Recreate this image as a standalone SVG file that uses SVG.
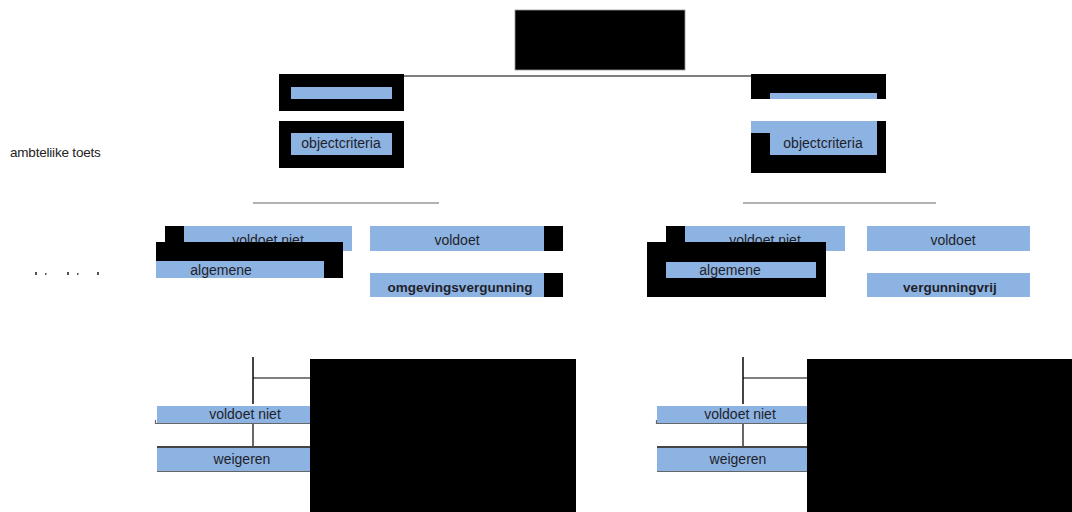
<svg xmlns="http://www.w3.org/2000/svg" width="1072" height="512" viewBox="0 0 1072 512">
<style>
.bk{fill:#000}
.bl{fill:#8db3e2}
.t{font-family:"Liberation Sans",Arial,sans-serif;font-size:14px;fill:#1f1f2a;text-anchor:middle}
.b{font-weight:bold;font-size:13.5px}
.ln{stroke:#000;stroke-width:1.2;fill:none}
.gl{stroke:#666;stroke-width:1.2;fill:none}
.dl{stroke:#444;stroke-width:2;fill:none}
.tk{fill:#555}
</style>
<defs>
<clipPath id="cL"><rect x="291" y="133" width="101" height="22"/></clipPath>
<clipPath id="cR"><rect x="770" y="133" width="107" height="22"/></clipPath>
<clipPath id="cVL"><rect x="184" y="226" width="168" height="16"/></clipPath>
<clipPath id="cVR"><rect x="685" y="226" width="160" height="16"/></clipPath>
<clipPath id="cA"><rect x="0" y="130" width="140" height="27"/></clipPath>
</defs>
<g id="connectors">
<line class="ln" x1="404" y1="76" x2="751" y2="76"/>
<line class="gl" x1="253" y1="203" x2="439" y2="203"/>
<line class="gl" x1="743" y1="203" x2="936" y2="203"/>
<line class="dl" x1="253" y1="357" x2="253" y2="404"/>
<line class="ln" x1="253" y1="378" x2="310" y2="378"/>
<line class="ln" x1="253" y1="423" x2="253" y2="447"/>
<line class="dl" x1="743" y1="357" x2="743" y2="404"/>
<line class="ln" x1="743" y1="378" x2="807" y2="378"/>
<line class="ln" x1="743" y1="423" x2="743" y2="447"/>
</g>
<g id="labels">
<text x="10" y="157" font-family="Liberation Sans,Arial,sans-serif" font-size="13.5" fill="#222" clip-path="url(#cA)" letter-spacing="-0.2">ambteliike toets</text>
<rect class="tk" x="35" y="272" width="2" height="3"/>
<rect class="tk" x="45" y="273" width="1.5" height="2"/>
<rect class="tk" x="67" y="272" width="2" height="3"/>
<rect class="tk" x="77" y="273" width="1.5" height="2"/>
<rect class="tk" x="97" y="272" width="2" height="3"/>
</g>
<g id="top">
<rect class="bk" x="515" y="10" width="170" height="60" stroke="#999" stroke-width="0.8"/>
</g>
<g id="left-1">
<rect class="bk" x="279" y="74" width="125" height="37"/>
<rect class="bl" x="291" y="87" width="101" height="12"/>
</g>
<g id="left-2">
<rect class="bk" x="279" y="121" width="125" height="47"/>
<rect class="bl" x="291" y="133" width="101" height="22"/>
<text class="t" x="341" y="148" clip-path="url(#cL)">objectcriteria</text>
</g>
<g id="right-1">
<rect class="bk" x="751" y="74" width="135" height="25"/>
<rect class="bl" x="770" y="93" width="107" height="6"/>
</g>
<g id="right-2">
<rect class="bk" x="751" y="121" width="135" height="52"/>
<rect class="bl" x="751" y="121" width="126" height="12"/>
<rect class="bl" x="770" y="133" width="107" height="22"/>
<text class="t" x="823" y="148" clip-path="url(#cR)">objectcriteria</text>
</g>
<g id="left-voldoet-niet">
<rect class="bk" x="165" y="226" width="19" height="16"/>
<rect class="bl" x="184" y="226" width="168" height="25"/>
<text class="t" x="268" y="245" clip-path="url(#cVL)">voldoet niet</text>
</g>
<g id="left-algemene">
<rect class="bk" x="156" y="242" width="187" height="19"/>
<rect class="bk" x="324" y="261" width="19" height="17"/>
<rect class="bl" x="156" y="261" width="168" height="17"/>
<text class="t" x="221" y="275">algemene</text>
</g>
<g id="left-voldoet">
<rect class="bl" x="370" y="226" width="174" height="25"/>
<rect class="bk" x="544" y="226" width="19" height="25"/>
<text class="t" x="457" y="245">voldoet</text>
</g>
<g id="left-omgevingsvergunning">
<rect class="bl" x="370" y="273" width="174" height="24"/>
<rect class="bk" x="544" y="273" width="19" height="24"/>
<text class="t b" x="460" y="292">omgevingsvergunning</text>
</g>
<g id="right-voldoet-niet">
<rect class="bk" x="666" y="226" width="19" height="16"/>
<rect class="bl" x="685" y="226" width="160" height="25"/>
<text class="t" x="765" y="245" clip-path="url(#cVR)">voldoet niet</text>
</g>
<g id="right-algemene">
<rect class="bk" x="647" y="242" width="179" height="55"/>
<rect class="bl" x="666" y="262" width="150" height="16"/>
<text class="t" x="730" y="275">algemene</text>
</g>
<g id="right-voldoet">
<rect class="bl" x="867" y="226" width="163" height="25"/>
<text class="t" x="953" y="245">voldoet</text>
</g>
<g id="right-vergunningvrij">
<rect class="bl" x="867" y="273" width="163" height="24"/>
<text class="t b" x="950" y="292">vergunningvrij</text>
</g>
<g id="left-bottom-box">
<rect class="bk" x="310" y="359" width="266" height="153"/>
</g>
<g id="left-bottom-voldoet-niet">
<rect class="bl" x="157" y="406" width="153" height="17"/>
<line class="gl" x1="155" y1="423.5" x2="310" y2="423.5"/>
<line class="gl" x1="155.5" y1="420" x2="155.5" y2="424"/>
<text class="t" x="245" y="419">voldoet niet</text>
</g>
<g id="left-weigeren">
<line class="dl" x1="157" y1="447" x2="310" y2="447"/>
<rect class="bl" x="157" y="448" width="153" height="23"/>
<line class="gl" x1="157" y1="471.5" x2="310" y2="471.5"/>
<text class="t" x="242" y="464">weigeren</text>
</g>
<g id="right-bottom-box">
<rect class="bk" x="807" y="359" width="265" height="153"/>
</g>
<g id="right-bottom-voldoet-niet">
<rect class="bl" x="657" y="406" width="150" height="17"/>
<line class="gl" x1="656" y1="423.5" x2="807" y2="423.5"/>
<line class="gl" x1="656.5" y1="420" x2="656.5" y2="424"/>
<text class="t" x="740" y="419">voldoet niet</text>
</g>
<g id="right-weigeren">
<line class="dl" x1="657" y1="447" x2="807" y2="447"/>
<rect class="bl" x="657" y="448" width="150" height="23"/>
<line class="gl" x1="657" y1="471.5" x2="807" y2="471.5"/>
<text class="t" x="738" y="464">weigeren</text>
</g>
</svg>
